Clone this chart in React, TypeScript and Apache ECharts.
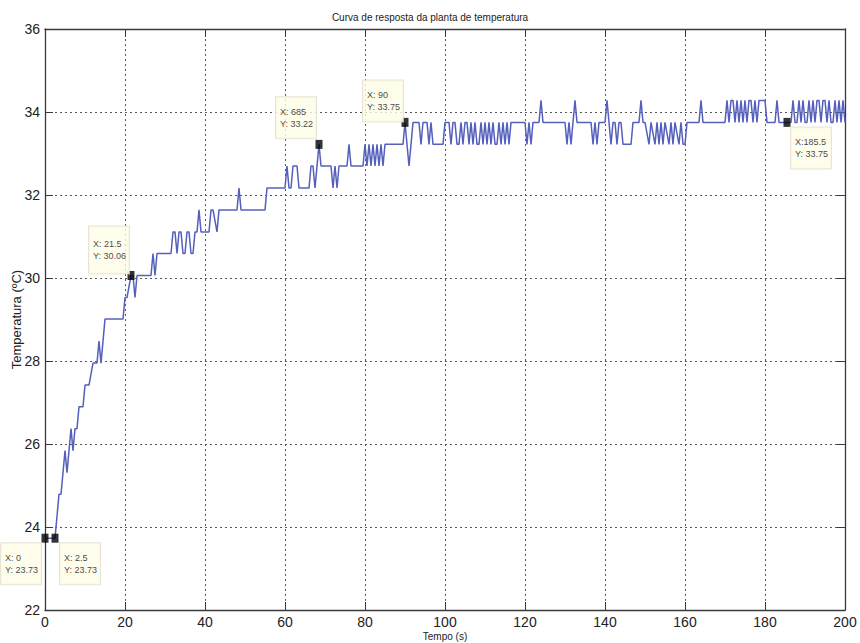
import React, { useEffect, useRef } from "react";
import * as echarts from "echarts";

// Line vertices (time in s, temperature in ºC)
const timeS: number[] = [
  0, 2.5, 3.5, 4, 4.5, 5, 5.5, 6, 6.5, 7, 7.5, 8, 8.5, 9.5, 10, 11, 12, 13, 13.5, 14, 14.5, 15,
  19.5, 20, 20.5, 21.5, 22, 22.5, 23, 26.5, 27, 27.5, 28, 31.5, 32, 32.5, 33, 33.5, 34, 34.5, 35,
  35.5, 36, 36.5, 37, 37.5, 38, 38.5, 39, 41, 41.5, 42, 43, 43.5, 48, 48.5, 49, 55, 55.5, 60, 60.5,
  61, 61.5, 62, 63, 63.5, 66, 66.5, 67, 67.5, 68, 68.5, 69, 71.5, 72, 72.5, 73, 73.5, 75.5, 76, 76.5,
  79.5, 80, 80.5, 81, 81.5, 82, 82.5, 83, 83.5, 84, 84.5, 85, 89.5, 90, 90.5, 91, 91.5, 92, 93.5, 94,
  94.5, 95.5, 96, 96.5, 97, 99.5, 100, 101, 101.5, 102, 102.5, 103, 103.5, 104, 104.5, 105, 105.5,
  106, 106.5, 107, 107.5, 108, 108.5, 109, 109.5, 110, 110.5, 111, 111.5, 112, 112.5, 113, 113.5,
  114, 114.5, 115, 115.5, 116, 116.5, 120, 120.5, 121, 121.5, 122, 123.5, 124, 124.5, 130, 130.5,
  131, 131.5, 132, 132.5, 133, 136.5, 137, 137.5, 138, 138.5, 140, 140.5, 141, 141.5, 142, 142.5,
  143, 143.5, 144, 144.5, 146.5, 147, 148.5, 149, 149.5, 150, 151, 151.5, 152.5, 153, 153.5, 154,
  154.5, 155, 156, 156.5, 157, 157.5, 158.5, 159, 159.5, 160, 160.5, 163.5, 164, 164.5, 170, 170.5,
  171, 171.5, 172, 172.5, 173, 173.5, 174, 174.5, 175, 175.5, 176, 176.5, 177, 177.5, 178, 178.5,
  180, 180.5, 182.5, 183, 183.5, 186.5, 187, 187.5, 188, 188.5, 189, 189.5, 190, 190.5, 191, 191.5,
  192, 192.5, 193, 193.5, 194, 194.5, 195, 195.5, 196, 196.5, 197, 197.5, 198, 198.5, 199, 199.5, 200,
];
const tempC: number[] = [
  23.73, 23.73, 24.79, 24.79, 25.31, 25.84, 25.31, 25.84, 26.37, 25.84, 26.37, 26.37, 26.9, 26.9,
  27.42, 27.42, 27.95, 27.95, 28.48, 27.95, 28.48, 29.01,
  29.01, 29.53, 29.53, 30.06, 30.06, 29.53, 30.06, 30.06, 30.59, 30.06, 30.59, 30.59, 31.11, 31.11,
  30.59, 31.11, 31.11, 30.59, 30.59,
  31.11, 31.11, 30.59, 30.59, 31.11, 31.11, 31.64, 31.11, 31.11, 31.64, 31.64, 31.11, 31.64, 31.64,
  32.17, 31.64, 31.64, 32.17, 32.17, 32.7,
  32.17, 32.17, 32.7, 32.7, 32.17, 32.17, 32.7, 32.7, 32.17, 32.7, 33.22, 32.7, 32.7, 32.17, 32.7,
  32.17, 32.7, 32.7, 33.22, 32.7,
  32.7, 33.22, 32.7, 33.22, 32.7, 33.22, 32.7, 33.22, 32.7, 33.22, 32.7, 33.22, 33.22, 33.75, 33.22,
  32.7, 33.22, 33.75, 33.75, 33.22,
  33.75, 33.75, 33.22, 33.75, 33.22, 33.22, 33.75, 33.75, 33.22, 33.75, 33.75, 33.22, 33.22, 33.75,
  33.22, 33.75, 33.75,
  33.22, 33.75, 33.22, 33.75, 33.22, 33.22, 33.75, 33.22, 33.75, 33.22, 33.75, 33.22, 33.75, 33.22,
  33.22, 33.75,
  33.22, 33.75, 33.22, 33.75, 33.22, 33.75, 33.75, 33.22, 33.75, 33.22, 33.75, 33.75, 34.28, 33.75,
  33.75, 33.22,
  33.75, 33.22, 33.75, 34.28, 33.75, 33.75, 33.22, 33.75, 33.22, 33.75, 33.75, 34.28, 33.75, 33.22,
  33.75, 33.75,
  33.22, 33.75, 33.75, 33.22, 33.22, 33.75, 33.75, 34.28, 33.75, 33.75, 33.22, 33.75, 33.22, 33.75,
  33.22, 33.75,
  33.22, 33.75, 33.22, 33.75, 33.22, 33.75, 33.22, 33.75, 33.22, 33.22, 33.75, 33.75, 34.28, 33.75,
  33.75, 34.28,
  33.75, 34.28, 34.28, 33.75, 34.28, 33.75, 34.28, 33.75, 34.28, 33.75, 34.28, 34.28, 33.75, 34.28,
  33.75, 34.28,
  34.28, 33.75, 33.75, 34.28, 33.75, 33.75, 34.28, 33.75, 33.75, 34.28, 33.75, 34.28, 33.75, 33.75,
  34.28, 33.75,
  34.28, 33.75, 34.28, 34.28, 33.75, 34.28, 34.28, 33.75, 34.28, 33.75, 33.75, 34.28, 33.75, 34.28,
  33.75, 34.28, 33.75,
];

// Data tips
const tipT: number[] = [0, 2.5, 21.5, 68.5, 90, 185.5];
const tipV: number[] = [23.73, 23.73, 30.06, 33.22, 33.75, 33.75];
const tipXText: string[] = ["X: 0", "X: 2.5", "X: 21.5", "X: 685", "X: 90", "X:185.5"];
const tipYText: string[] = ["Y: 23.73", "Y: 23.73", "Y: 30.06", "Y: 33.22", "Y: 33.75", "Y: 33.75"];
const tipPos: number[][] = [
  [-40.5, 9.5],
  [8.5, 9.5],
  [-38.5, -44.5],
  [-39.5, -42.5],
  [-38.5, -37.5],
  [7.5, 9.5],
];

const FONT = "'Liberation Sans Narrow', 'Liberation Sans', Arial, sans-serif";
const FONT_W = "'Liberation Sans', Arial, sans-serif";

export default function App() {
  const ref = useRef<HTMLDivElement>(null);
  useEffect(() => {
    if (!ref.current) return;
    const chart = echarts.init(ref.current, undefined, { renderer: "svg" });
    const lineData = timeS.map((t, i) => [t, tempC[i]]);
    const tipData = tipT.map((t, i) => ({
      value: [t, tipV[i]],
      label: {
        show: true,
        position: tipPos[i],
        formatter: tipXText[i] + "\n" + tipYText[i],
        padding: i === 2 ? [11, 2, 12, 4] : [9, 2, 8, 4],
      },
    }));
    const axisLineStyle = { color: "#3a3a3a", width: 1.3 };
    chart.setOption({
      animation: false,
      backgroundColor: "#ffffff",
      title: {
        text: "Curva de resposta da planta de temperatura",
        left: "center",
        top: 7,
        textStyle: { fontSize: 10, fontWeight: "normal", color: "#222", fontFamily: FONT },
      },
      grid: { left: 45, right: 15, top: 29, bottom: 33, outerBoundsMode: "none", containLabel: false },
      xAxis: [
        {
          type: "value",
          min: 0,
          max: 200,
          interval: 20,
          position: "bottom",
          name: "Tempo (s)",
          nameLocation: "middle",
          nameGap: 21,
          nameMoveOverlap: false,
          nameTextStyle: { fontSize: 10, color: "#222", fontFamily: FONT },
          axisLine: { onZero: false, lineStyle: axisLineStyle },
          axisTick: { inside: true, length: 8, lineStyle: { color: "#3a3a3a" } },
          axisLabel: { fontSize: 14, color: "#222", margin: 5, fontFamily: FONT },
          splitLine: { show: true, lineStyle: { type: [2, 3], color: "#555", width: 1 } },
        },
        {
          type: "value",
          min: 0,
          max: 200,
          interval: 20,
          position: "top",
          axisLine: { onZero: false, lineStyle: axisLineStyle },
          axisTick: { inside: true, length: 8, lineStyle: { color: "#3a3a3a" } },
          axisLabel: { show: false },
          splitLine: { show: false },
        },
      ],
      yAxis: [
        {
          type: "value",
          min: 22,
          max: 36,
          interval: 2,
          position: "left",
          name: "Temperatura (ºC)",
          nameLocation: "middle",
          nameGap: 22,
          nameRotate: 90,
          nameMoveOverlap: false,
          nameTextStyle: { fontSize: 13, color: "#222", fontFamily: FONT_W },
          axisLine: { onZero: false, lineStyle: axisLineStyle },
          axisTick: { inside: true, length: 8, lineStyle: { color: "#3a3a3a" } },
          axisLabel: { fontSize: 14, color: "#222", margin: 5, fontFamily: FONT },
          splitLine: { show: true, lineStyle: { type: [2, 3], color: "#555", width: 1 } },
        },
        {
          type: "value",
          min: 22,
          max: 36,
          interval: 2,
          position: "right",
          axisLine: { onZero: false, lineStyle: axisLineStyle },
          axisTick: { inside: true, length: 8, lineStyle: { color: "#3a3a3a" } },
          axisLabel: { show: false },
          splitLine: { show: false },
        },
      ],
      series: [
        {
          type: "line",
          data: lineData,
          xAxisIndex: 0,
          yAxisIndex: 0,
          showSymbol: false,
          symbol: "none",
          lineStyle: { color: "#5560bd", width: 1.5 },
          z: 3,
        },
        {
          type: "scatter",
          data: tipData,
          xAxisIndex: 0,
          yAxisIndex: 0,
          symbol: "rect",
          symbolSize: [7, 9],
          itemStyle: { color: "#000" },
          z: 5,
          label: {
            show: true,
            align: "left",
            verticalAlign: "top",
            fontSize: 9,
            lineHeight: 12,
            width: 34,
            color: "#111",
            fontFamily: FONT_W,
            backgroundColor: "#fffde6",
            borderColor: "#e2dfcc",
            borderWidth: 1,
          },
        },
      ],
    });
    return () => chart.dispose();
  }, []);
  return (
    <div
      ref={ref}
      style={{ position: "absolute", left: 0, top: 0, width: 860, height: 643 }}
    />
  );
}
